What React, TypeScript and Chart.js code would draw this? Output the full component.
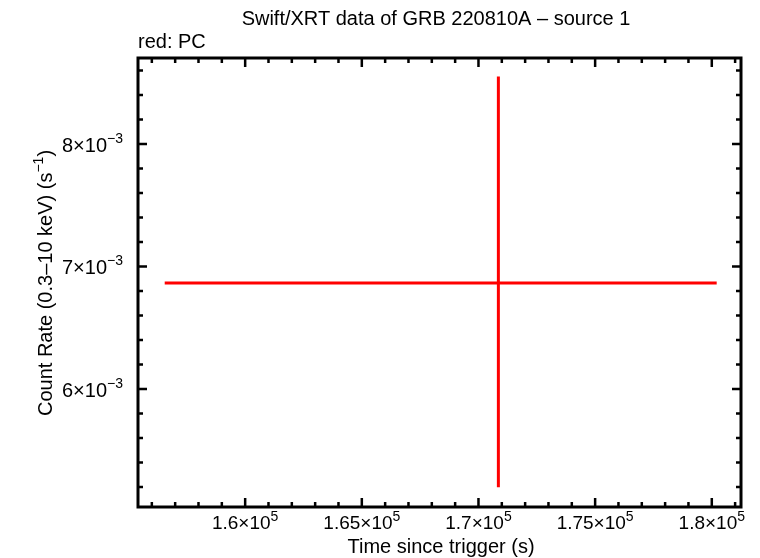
import React, { useEffect, useRef } from "react";
import { Chart, registerables } from "chart.js";

Chart.register(...registerables);

// ---- data ----
const pointTime = [170853];
const timeErrLow = [156552];
const timeErrHigh = [180210];
const pointRate = [6.866e-3];
const rateErrLow = [5.198e-3];
const rateErrHigh = [8.552e-3];

// ---- axes ----
const xRange = [155407, 181252];
const yRange = [5.037e-3, 8.702e-3];
const xMajorTicks = [160000, 165000, 170000, 175000, 180000];
const xMajorLabels = ["1.6", "1.65", "1.7", "1.75", "1.8"];
const xExponent = "5";
const xMinorTicks = [156000, 157000, 158000, 159000, 161000, 162000, 163000, 164000, 166000, 167000, 168000, 169000, 171000, 172000, 173000, 174000, 176000, 177000, 178000, 179000, 181000];
const yMajorTicks = [6e-3, 7e-3, 8e-3];
const yMajorLabels = ["6", "7", "8"];
const yExponent = "−3";
const yMinorTicks = [5.2e-3, 5.4e-3, 5.6e-3, 5.8e-3, 6.2e-3, 6.4e-3, 6.6e-3, 6.8e-3, 7.2e-3, 7.4e-3, 7.6e-3, 7.8e-3, 8.2e-3, 8.4e-3, 8.6e-3];

const titleText = "Swift/XRT data of GRB 220810A – source 1";
const subtitleText = "red: PC";
const xTitle = "Time since trigger (s)";
const yTitleParts = [{ t: "Count Rate (0.3–10 keV) (s" }, { t: "−1", sup: true }, { t: ")" }];

const FONT = "'Liberation Sans', Arial, Helvetica, sans-serif";

type Part = { t: string; sup?: boolean };

function drawRich(ctx: CanvasRenderingContext2D, parts: Part[], x: number, y: number, align: "left" | "center" | "right", size = 20, supSize = 14) {
  const MAIN = `${size}px ${FONT}`;
  const SUP = `${supSize}px ${FONT}`;
  ctx.save();
  ctx.translate(x, y);
  let total = 0;
  const widths = parts.map((p) => {
    ctx.font = p.sup ? SUP : MAIN;
    const w = ctx.measureText(p.t).width;
    total += w;
    return w;
  });
  let cx = align === "left" ? 0 : align === "center" ? -total / 2 : -total;
  ctx.textAlign = "left";
  ctx.textBaseline = "middle";
  parts.forEach((p, i) => {
    ctx.font = p.sup ? SUP : MAIN;
    ctx.fillText(p.t, cx, p.sup ? -7 : 0);
    cx += widths[i];
  });
  ctx.restore();
}

const framePlugin = {
  id: "frame",
  afterDraw(chart: any) {
    const ctx: CanvasRenderingContext2D = chart.ctx;
    const { left, right, top, bottom } = chart.chartArea;
    const xs = chart.scales.x;
    const ys = chart.scales.y;
    ctx.save();
    ctx.strokeStyle = "#000";
    ctx.fillStyle = "#000";
    // ticks
    ctx.lineWidth = 2.5;
    const vTick = (v: number, len: number) => {
      const px = xs.getPixelForValue(v);
      ctx.beginPath();
      ctx.moveTo(px, bottom);
      ctx.lineTo(px, bottom - len);
      ctx.moveTo(px, top);
      ctx.lineTo(px, top + len);
      ctx.stroke();
    };
    const hTick = (v: number, len: number) => {
      const py = ys.getPixelForValue(v);
      ctx.beginPath();
      ctx.moveTo(left, py);
      ctx.lineTo(left + len, py);
      ctx.moveTo(right, py);
      ctx.lineTo(right - len, py);
      ctx.stroke();
    };
    xMinorTicks.forEach((v) => vTick(v, 5));
    xMajorTicks.forEach((v) => vTick(v, 9));
    yMinorTicks.forEach((v) => hTick(v, 5));
    yMajorTicks.forEach((v) => hTick(v, 9));
    // frame
    ctx.lineWidth = 3;
    ctx.strokeRect(left, top, right - left, bottom - top);

    // tick labels
    xMajorTicks.forEach((v, i) => {
      const px = xs.getPixelForValue(v);
      drawRich(ctx, [{ t: xMajorLabels[i] + "×10" }, { t: xExponent, sup: true }], px, bottom + 17, "center", 19, 14);
    });
    yMajorTicks.forEach((v, i) => {
      const py = ys.getPixelForValue(v);
      drawRich(ctx, [{ t: yMajorLabels[i] + "×10" }, { t: yExponent, sup: true }], left - 15, py + 2, "right", 20, 14);
    });

    // titles
    drawRich(ctx, [{ t: titleText }], 436, 19, "center");
    drawRich(ctx, [{ t: subtitleText }], 138, 42, "left");
    drawRich(ctx, [{ t: xTitle }], 441, 547, "center");
    ctx.save();
    ctx.translate(46, 283);
    ctx.rotate(-Math.PI / 2);
    drawRich(ctx, yTitleParts, 0, 0, "center");
    ctx.restore();
    ctx.restore();
  },
};

export default function App() {
  const ref = useRef<HTMLCanvasElement | null>(null);
  useEffect(() => {
    if (!ref.current) return;
    const hBar = pointTime.map((_, i) => [
      { x: timeErrLow[i], y: pointRate[i] },
      { x: timeErrHigh[i], y: pointRate[i] },
    ]).flat();
    const vBar = pointTime.map((_, i) => [
      { x: pointTime[i], y: rateErrLow[i] },
      { x: pointTime[i], y: rateErrHigh[i] },
    ]).flat();
    const chart = new Chart(ref.current, {
      type: "scatter",
      data: {
        datasets: [
          { data: hBar, showLine: true, borderColor: "#ff0000", borderWidth: 3, pointRadius: 0, borderCapStyle: "butt" },
          { data: vBar, showLine: true, borderColor: "#ff0000", borderWidth: 3, pointRadius: 0, borderCapStyle: "butt" },
        ],
      },
      options: {
        animation: false,
        responsive: false,
        devicePixelRatio: 1,
        layout: { padding: { left: 138, right: 19, top: 58, bottom: 51 } },
        plugins: { legend: { display: false }, tooltip: { enabled: false }, title: { display: false } },
        scales: {
          x: { type: "linear", display: false, min: xRange[0], max: xRange[1] },
          y: { type: "linear", display: false, min: yRange[0], max: yRange[1] },
        },
      },
      plugins: [framePlugin],
    } as any);
    return () => chart.destroy();
  }, []);
  return (
    <div style={{ position: "absolute", left: 0, top: 0, width: 760, height: 558, background: "#fff" }}>
      <canvas ref={ref} width={760} height={558} />
    </div>
  );
}
